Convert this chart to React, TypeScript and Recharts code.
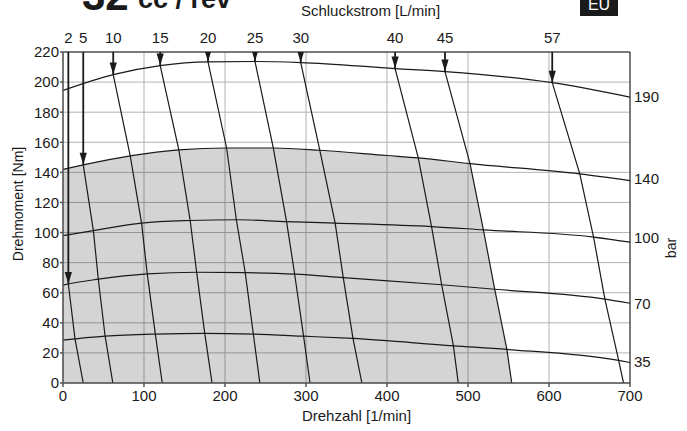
import {
  ComposedChart,
  Line,
  Area,
  XAxis,
  YAxis,
  CartesianGrid,
  ReferenceLine,
  Label,
} from "recharts";

// pressure curves: [rpm, Nm]
const bar190: [number, number][] = [[0, 194.5], [62, 205], [120, 211], [179, 213.5], [237, 213.7], [293.5, 213], [410, 209], [471.6, 207], [604, 199.6], [700, 190]];
const bar140: [number, number][] = [[0, 142], [25, 145], [83, 151], [143, 155], [202, 156.2], [259.6, 156.2], [317, 154.7], [400, 151.2], [438.6, 149.6], [502.5, 145.8], [638, 139], [700, 134.5]];
const bar100: [number, number][] = [[0, 98], [37.5, 101.3], [97, 106.3], [157, 108], [214, 108.5], [276, 107.3], [336, 106.3], [455, 104], [519, 101.8], [655, 97], [700, 93.6]];
const bar70: [number, number][] = [[0, 65], [6.6, 65.8], [43.6, 69], [104, 72.5], [165, 73.6], [225, 73.3], [286, 72.3], [346, 70], [467.5, 65.3], [533, 62.3], [669, 55.8], [700, 53]];
const bar35: [number, number][] = [[0, 28.5], [14.8, 29.3], [52, 31.1], [114, 32.5], [175, 33], [235, 32.5], [297, 31.1], [358, 29.6], [482, 24.7], [548, 22.3], [686, 15], [700, 13.6]];

// flow lines (Schluckstrom): [rpm, Nm], first point = arrow tip
const f2: [number, number][] = [[6.6, 65.8], [14.8, 29.3], [25, 0]];
const f5: [number, number][] = [[25, 145], [37.5, 101.3], [43.6, 69], [52, 31.1], [61.5, 0]];
const f10: [number, number][] = [[62, 205], [83, 151], [97, 106.3], [104, 72.5], [114, 32.5], [122.5, 0]];
const f15: [number, number][] = [[120, 211], [143, 155], [157, 108], [165, 73.6], [175, 33], [184, 0]];
const f20: [number, number][] = [[179, 213.5], [202, 156.2], [214, 108.5], [225, 73.3], [235, 32.5], [243, 0]];
const f25: [number, number][] = [[237, 213.7], [259.6, 156.2], [276, 107.3], [286, 72.3], [297, 31.1], [305, 0]];
const f30: [number, number][] = [[293.5, 213], [317, 154.7], [336, 106.3], [346, 70], [358, 29.6], [369, 0]];
const f40: [number, number][] = [[410, 209], [438.6, 149.6], [455, 104], [467.5, 65.3], [482, 24.7], [488, 0]];
const f45: [number, number][] = [[471.6, 207], [502.5, 145.8], [519, 101.8], [533, 62.3], [548, 22.3], [554, 0]];
const f57: [number, number][] = [[604, 199.6], [638, 139], [655, 97], [669, 55.8], [686, 15], [692, 0]];

const flowLines = [f2, f5, f10, f15, f20, f25, f30, f40, f45, f57];
const flowLabels = ["2", "5", "10", "15", "20", "25", "30", "40", "45", "57"];
const pressureCurves = [bar190, bar140, bar100, bar70, bar35];

// right axis: bar labels at curve ends
const barTickNm = [190, 135.5, 96.5, 53, 14];
const barLabels = ["190", "140", "100", "70", "35"];

const xTicks = [0, 100, 200, 300, 400, 500, 600, 700];
const yTicks = [0, 20, 40, 60, 80, 100, 120, 140, 160, 180, 200, 220];

const W = 687;
const H = 431;
const FONT = "'Liberation Sans', Arial, Helvetica, sans-serif";
const INK = "#1a1a1a";

const pts = (a: [number, number][]) => a.map(([x, y]) => ({ x, y }));

// shaded region: under 140 bar, left of 45 L/min
const shade = [
  ...bar140.filter(([x]) => x <= f45[1][0]),
  ...f45.slice(2),
];

const arrowTipsX = flowLines.map((f) => f[0][0]);

function arrowDot(props: any) {
  const { cx, cy, index } = props;
  if (index !== 1 || cx == null || cy == null) return <g key={`n${index}`} />;
  return (
    <path
      key={`a${cx}`}
      d={`M${cx},${cy} L${cx - 3.6},${cy - 12} L${cx + 3.6},${cy - 12} Z`}
      fill={INK}
    />
  );
}

const tickStyle = { fill: INK, fontSize: 15, fontFamily: FONT };

export default function App() {
  return (
    <div
      style={{
        position: "absolute",
        left: 0,
        top: 0,
        width: W,
        height: H,
        background: "#fff",
        overflow: "hidden",
      }}
    >
      <ComposedChart
        width={W}
        height={H}
        margin={{ top: 22, right: 0, bottom: 8, left: 0 }}
      >
        <CartesianGrid stroke="#b3b3b3" strokeWidth={1} />
        <XAxis
          type="number"
          dataKey="x"
          domain={[0, 700]}
          ticks={xTicks}
          allowDataOverflow
          height={40}
          tickSize={4}
          tickMargin={3}
          stroke="#555"
          strokeWidth={1.5}
          tick={tickStyle}
        >
          <Label
            value="Drehzahl [1/min]"
            position="insideBottom"
            offset={2}
            dx={10}
            style={{ fill: INK, fontSize: 15, fontFamily: FONT }}
          />
        </XAxis>
        <XAxis
          xAxisId="top"
          orientation="top"
          type="number"
          dataKey="x"
          domain={[0, 700]}
          ticks={arrowTipsX}
          interval={0}
          allowDataOverflow
          height={30}
          axisLine={false}
          tickLine={false}
          tickSize={5}
          tickMargin={4}
          tickFormatter={(v: number) => flowLabels[arrowTipsX.indexOf(v)]}
          tick={tickStyle}
        >
          <Label
            value="Schluckstrom [L/min]"
            position="top"
            offset={6}
            dx={24}
            style={{ fill: INK, fontSize: 15, fontFamily: FONT }}
          />
        </XAxis>
        <YAxis
          type="number"
          domain={[0, 220]}
          ticks={yTicks}
          allowDataOverflow
          width={63}
          tickSize={3}
          tickMargin={1}
          stroke="#555"
          strokeWidth={1.5}
          tick={tickStyle}
        >
          <Label
            value="Drehmoment [Nm]"
            angle={-90}
            position="center"
            dx={-13.5}
            dy={-13.5}
            style={{ fill: INK, fontSize: 14, fontFamily: FONT }}
          />
        </YAxis>
        <YAxis
          yAxisId="right"
          orientation="right"
          type="number"
          domain={[0, 220]}
          ticks={barTickNm}
          allowDataOverflow
          width={57}
          tickLine={false}
          tickSize={2}
          tickMargin={2}
          stroke={INK}
          tickFormatter={(v: number) => barLabels[barTickNm.indexOf(v)]}
          tick={tickStyle}
        >
          <Label
            value="bar"
            angle={-90}
            position="center"
            dx={12.5}
            dy={30.5}
            style={{ fill: INK, fontSize: 14, fontFamily: FONT }}
          />
        </YAxis>
        <ReferenceLine y={220} stroke={INK} strokeWidth={1} />
        <Area
          data={pts(shade)}
          dataKey="y"
          type="linear"
          baseValue={0}
          stroke="none"
          fill="#000"
          fillOpacity={0.17}
          isAnimationActive={false}
        />
        {pressureCurves.map((c, i) => (
          <Line
            key={`p${i}`}
            data={pts(c)}
            dataKey="y"
            type="monotone"
            stroke={INK}
            strokeWidth={1.2}
            dot={false}
            isAnimationActive={false}
          />
        ))}
        {flowLines.map((f, i) => (
          <Line
            key={`f${i}`}
            data={pts(f)}
            dataKey="y"
            type="linear"
            stroke={INK}
            strokeWidth={1.2}
            dot={false}
            isAnimationActive={false}
          />
        ))}
        {flowLines.map((f, i) => (
          <Line
            key={`a${i}`}
            data={[
              { x: f[0][0], y: 220 },
              { x: f[0][0], y: f[0][1] },
            ]}
            dataKey="y"
            type="linear"
            stroke={INK}
            strokeWidth={1.8}
            dot={arrowDot}
            isAnimationActive={false}
          />
        ))}
      </ComposedChart>
      <svg
        width={W}
        height={H}
        style={{ position: "absolute", left: 0, top: 0, pointerEvents: "none" }}
      >
        <text x={82} y={9.5} fontFamily={FONT} fontWeight={700} fontSize={42} fill={INK}>
          32
        </text>
        <text x={138} y={8} fontFamily={FONT} fontWeight={700} fontSize={27} fill={INK}>
          cc / rev
        </text>
        <rect x={580} y={-2} width={38} height={18} fill="#1a1a1a" />
        <text x={599} y={10} textAnchor="middle" fontFamily={FONT} fontSize={16} fill="#fff">
          EU
        </text>
      </svg>
    </div>
  );
}
